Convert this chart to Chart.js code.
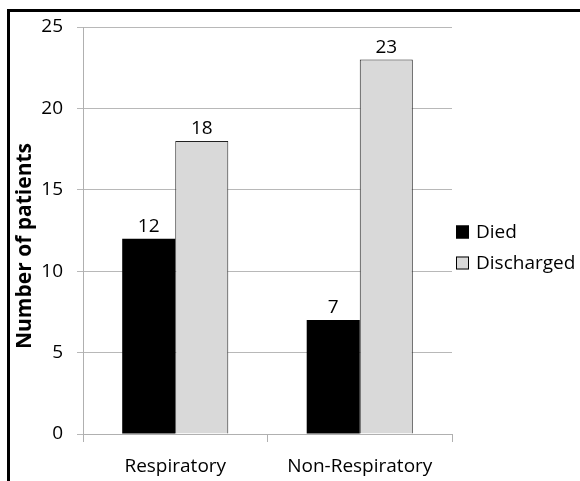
<!DOCTYPE html>
<html>
<head>
<meta charset="utf-8">
<script src="https://cdn.jsdelivr.net/npm/chart.js@4/dist/chart.umd.min.js"></script>
<style>
    html, body { margin: 0; padding: 0; background: #fff; }
    #wrap { position: relative; width: 580px; height: 481px; overflow: hidden; }
    #frame {
        position: absolute; left: 7px; top: 9px; width: 600px; height: 500px;
        border-top: 3px solid #000; border-left: 3px solid #000;
        box-sizing: border-box; pointer-events: none;
    }
    canvas { position: absolute; left: 0; top: 0; }
</style>
</head>
<body>
<div id="wrap">
    <canvas id="chart" width="580" height="481"></canvas>
    <div id="frame"></div>
</div>
<script>
// ------------------------
// DATA
// ------------------------

const categories = ["Respiratory", "Non-Respiratory"];
const died = [12, 7];
const discharged = [18, 23];
const yTicks = [0, 5, 10, 15, 20, 25];
const yTitle = "Number of patients";

const FONT = "'Open Sans', 'Liberation Sans', sans-serif";

// ------------------------
// PLUGINS
// ------------------------

// value labels above each bar
const barLabels = {
    id: "barLabels",
    afterDatasetsDraw(chart) {
        const ctx = chart.ctx;
        ctx.save();
        ctx.font = "19px " + FONT;
        ctx.fillStyle = "#000";
        ctx.textAlign = "center";
        ctx.textBaseline = "alphabetic";
        chart.data.datasets.forEach((ds, i) => {
            chart.getDatasetMeta(i).data.forEach((bar, j) => {
                ctx.fillText(ds.data[j], bar.x, bar.y - 7);
            });
        });
        ctx.restore();
    }
};

// rotated y title, a bit below the middle like the original
const sideTitle = {
    id: "sideTitle",
    afterDraw(chart) {
        const ctx = chart.ctx;
        ctx.save();
        ctx.translate(25, 246);
        ctx.rotate(-Math.PI / 2);
        ctx.font = "bold 21px " + FONT;
        ctx.fillStyle = "#000";
        ctx.textAlign = "center";
        ctx.textBaseline = "middle";
        ctx.fillText(yTitle, 0, 0);
        ctx.restore();
    }
};

// legend on the right, square markers
const sideLegend = {
    id: "sideLegend",
    afterDraw(chart) {
        const ctx = chart.ctx;
        const x = 456;
        let y = 232;
        ctx.save();
        ctx.font = "19px " + FONT;
        ctx.textBaseline = "middle";
        chart.data.datasets.forEach(ds => {
            ctx.fillStyle = ds.backgroundColor;
            ctx.fillRect(x, y - 6.5, 13, 13);
            ctx.strokeStyle = "#000";
            ctx.lineWidth = 1;
            ctx.strokeRect(x + 0.5, y - 6, 12, 12);
            ctx.fillStyle = "#000";
            ctx.fillText(ds.label, x + 20, y + 1);
            y += 31;
        });
        ctx.restore();
    }
};

// ------------------------
// CHART
// ------------------------

new Chart(document.getElementById("chart"), {
    type: "bar",
    data: {
        labels: categories,
        datasets: [
            {
                label: "Died",
                data: died,
                backgroundColor: "#000000",
                borderColor: "#000000",
                borderWidth: 0
            },
            {
                label: "Discharged",
                data: discharged,
                backgroundColor: "#d9d9d9",
                borderColor: "#222222",
                borderWidth: 1
            }
        ]
    },
    options: {
        responsive: false,
        animation: false,
        layout: { padding: { left: 10, top: 27, right: 128, bottom: 0 } },
        plugins: {
            legend: { display: false },
            tooltip: { enabled: false }
        },
        datasets: {
            bar: { categoryPercentage: 0.575, barPercentage: 1 }
        },
        scales: {
            x: {
                afterFit: s => { s.height = 47; },
                grid: {
                    drawOnChartArea: false,
                    drawTicks: true,
                    tickLength: 8,
                    color: "#b0b0b0"
                },
                border: { color: "#b0b0b0" },
                ticks: {
                    color: "#000",
                    padding: 13,
                    maxRotation: 0,
                    font: { family: FONT, size: 19 }
                }
            },
            y: {
                min: 0,
                max: 25,
                afterFit: s => { s.width = 73; },
                afterBuildTicks: s => { s.ticks = yTicks.map(v => ({ value: v })); },
                grid: { color: "#b8b8b8", tickLength: 6 },
                border: { color: "#b0b0b0" },
                ticks: {
                    color: "#000",
                    padding: 14,
                    font: { family: FONT, size: 19 }
                }
            }
        }
    },
    plugins: [barLabels, sideTitle, sideLegend]
});
</script>
</body>
</html>
